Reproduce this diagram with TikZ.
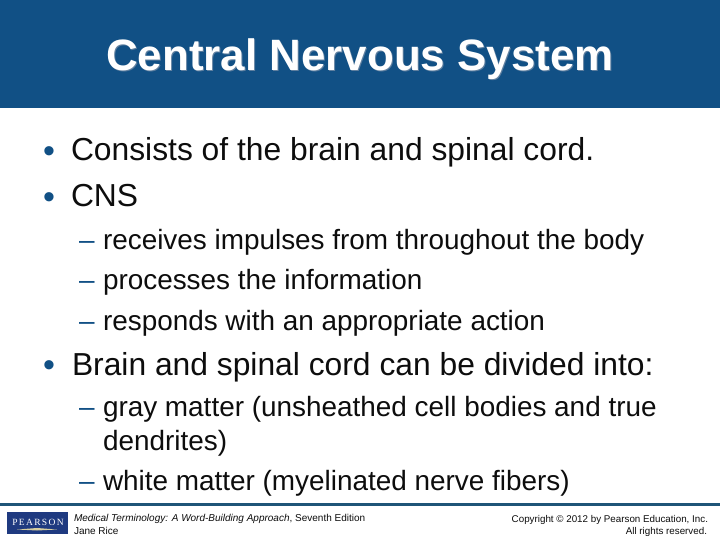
\documentclass[tikz,border=0pt]{standalone}
\usepackage{fontspec}
\setmainfont{Liberation Sans}
\newfontfamily\pearsonfont[LetterSpace=14]{Liberation Serif}
\definecolor{hdr}{HTML}{115085}
\definecolor{rulec}{HTML}{1F5578}
\definecolor{txt}{HTML}{0D0D0D}
\definecolor{pb}{HTML}{1F3A80}
\definecolor{shad}{HTML}{5F7F9F}
\definecolor{swoosh}{HTML}{D8CFA0}
\newcommand{\fs}[1]{\fontsize{#1}{#1}\selectfont}
\tikzset{x=1pt,y=-1pt,
 lab/.style={anchor=base west,inner sep=0pt,outer sep=0pt,text=txt},
 l1/.style={lab,font=\fs{31.8}},
 l2/.style={lab,font=\fs{27.9}},
 bul/.style={lab,text=hdr,font=\fs{34}},
 dsh/.style={lab,text=hdr,font=\fs{27.9}},
 foot/.style={lab,font=\fs{10}},
 footr/.style={anchor=base east,inner sep=0pt,outer sep=0pt,text=txt,font=\fs{9.8}},
 ttl/.style={anchor=base,inner sep=0pt,outer sep=0pt,font=\fs{43.9}\bfseries}}
\begin{document}
\begin{tikzpicture}
\useasboundingbox (0,0) rectangle (720,540);
\fill[white] (0,0) rectangle (720,540);
\fill[hdr] (0,0) rectangle (720,108.5);
\node[ttl,text=shad] (ts) at (361,72) {Central Nervous System};
\node[ttl,text=white] (t) at (360,71) {Central Nervous System};
\node[bul] (b1d) at (43,163) {•}; \node[l1] (b1) at (71,161) {Consists of the brain and spinal cord.};
\node[bul] (b2d) at (43,209) {•}; \node[l1] (b2) at (71,207) {CNS};
\node[dsh] (s1d) at (79,249) {–}; \node[l2] (s1) at (103,249) {receives impulses from throughout the body};
\node[dsh] (s2d) at (79,289) {–}; \node[l2] (s2) at (103,289) {processes the information};
\node[dsh] (s3d) at (79,330) {–}; \node[l2] (s3) at (103,330) {responds with an appropriate action};
\node[bul] (b3d) at (43,376) {•}; \node[l1] (b3) at (72,375) {Brain and spinal cord can be divided into:};
\node[dsh] (s4d) at (79,416) {–}; \node[l2] (s4) at (103,416) {gray matter (unsheathed cell bodies and true};
\node[l2] (s4b) at (103,450) {dendrites)};
\node[dsh] (s5d) at (79,490) {–}; \node[l2] (s5) at (103,490) {white matter (myelinated nerve fibers)};
\fill[rulec] (0,503) rectangle (720,506);
\fill[pb] (7,512) rectangle (68,534);
\node[anchor=base,inner sep=0pt,text=white,font=\fs{9.5}\pearsonfont] (pn) at (38,525) {PEARSON};
\fill[swoosh] (17,529.5) -- (37,528) -- (57,529.5) -- (37,530.5) -- cycle;
\node[foot] (f1) at (74,521.5) {\textit{Medical Terminology: A Word-Building Approach}, Seventh Edition};
\node[foot] (f2) at (74,534) {Jane Rice};
\node[footr] (f3) at (708,522) {Copyright © 2012 by Pearson Education, Inc.};
\node[footr] (f4) at (707,534) {All rights reserved.};
\end{tikzpicture}
\end{document}
